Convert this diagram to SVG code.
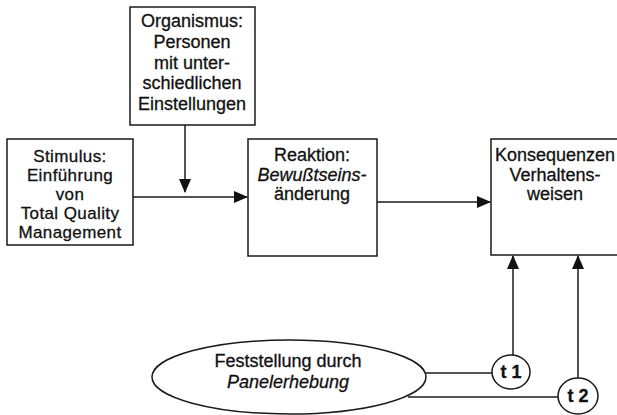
<svg xmlns="http://www.w3.org/2000/svg" width="617" height="415" viewBox="0 0 617 415">
<style>
.box{fill:#fff;stroke:#1a1a1a;stroke-width:1.5}
.ln{fill:none;stroke:#1a1a1a;stroke-width:1.5}
text{font-family:"Liberation Sans",Arial,sans-serif;font-size:18px;fill:#111;text-anchor:middle;stroke:#111;stroke-width:0.3}
.s{font-size:17px;letter-spacing:0.4px}
.it{font-style:italic}
.b{font-weight:bold}
</style>
<defs>
<marker id="ah" markerWidth="14" markerHeight="12" refX="13" refY="6" orient="auto" markerUnits="userSpaceOnUse">
<path d="M0,0 L14,6 L0,12 Z" fill="#111"/>
</marker>
</defs>
<rect width="617" height="415" fill="#fff"/>
<g id="organismus">
<rect class="box" x="130" y="7" width="125" height="118"/>
<text x="192" y="27">Organismus:</text>
<text x="192" y="48">Personen</text>
<text x="192" y="68.5">mit unter-</text>
<text x="192" y="89">schiedlichen</text>
<text x="192" y="109.5">Einstellungen</text>
</g>
<g id="stimulus">
<rect class="box" x="7" y="139" width="126" height="106"/>
<text class="s" x="70" y="162">Stimulus:</text>
<text class="s" x="70" y="181">Einführung</text>
<text class="s" x="70" y="200">von</text>
<text class="s" x="70" y="219">Total Quality</text>
<text class="s" x="70" y="238">Management</text>
</g>
<g id="reaktion">
<rect class="box" x="248" y="139" width="129" height="117"/>
<text x="312" y="161">Reaktion:</text>
<text x="312" y="181" class="it">Bewußtseins-</text>
<text x="312" y="200">änderung</text>
</g>
<g id="konsequenzen">
<rect class="box" x="491" y="139" width="140" height="116"/>
<text x="555" y="161">Konsequenzen</text>
<text x="555" y="181">Verhaltens-</text>
<text x="555" y="200">weisen</text>
</g>
<g id="panel">
<ellipse class="box" cx="289" cy="377" rx="137" ry="37"/>
<text x="288" y="367">Feststellung durch</text>
<text x="288" y="388" class="it">Panelerhebung</text>
</g>
<g id="t1">
<ellipse class="box" cx="511" cy="372" rx="19" ry="17"/>
<text x="511" y="378" class="b">t 1</text>
</g>
<g id="t2">
<ellipse class="box" cx="578" cy="396" rx="20" ry="18"/>
<text x="578" y="402" class="b">t 2</text>
</g>
<g id="connectors">
<path class="ln" d="M133,197 L247,197" marker-end="url(#ah)"/>
<path class="ln" d="M185,125 L185,192" marker-end="url(#ah)"/>
<path class="ln" d="M377,202 L490,202" marker-end="url(#ah)"/>
<path class="ln" d="M513,355 L513,256" marker-end="url(#ah)"/>
<path class="ln" d="M578,378 L578,256" marker-end="url(#ah)"/>
<path class="ln" d="M426,373 L492,373"/>
<path class="ln" d="M408,397 L558,397"/>
</g>
</svg>
